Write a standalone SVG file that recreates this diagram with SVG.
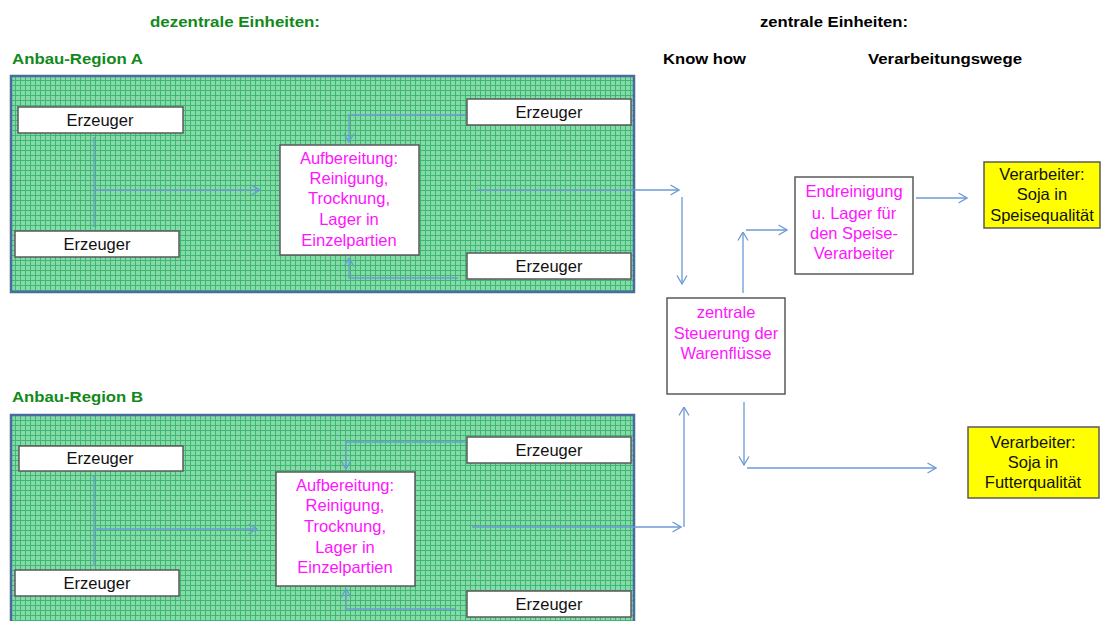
<svg xmlns="http://www.w3.org/2000/svg" width="1101" height="621" viewBox="0 0 1101 621">
<style>
.hdr{font-family:"Liberation Sans",Arial,sans-serif;font-weight:bold;font-size:15px}
.green{fill:#12891a}
.black{fill:#000}
.box{fill:#fff;stroke:#5a5a5a;stroke-width:1.5}
.ybox{fill:#ffff00;stroke:#5a5a5a;stroke-width:1.5}
.t{font-family:"Liberation Sans",Arial,sans-serif;font-size:16.5px;text-anchor:middle;fill:#111}
.m{font-family:"Liberation Sans",Arial,sans-serif;font-size:16.5px;text-anchor:middle;fill:#ff14ff}
.region{fill:url(#grid);stroke:#4a6aa0;stroke-width:2.5}
.c{fill:none;stroke:#6b9ad6;stroke-width:1.3}
</style>
<defs>
<pattern id="grid" x="0" y="0" width="5" height="5" patternUnits="userSpaceOnUse">
<rect width="5" height="5" fill="#84dba8"/>
<path d="M0,0.5 H5 M0.5,0 V5" stroke="#40b574" stroke-width="1"/>
</pattern>
<marker id="arr" viewBox="0 0 10 12" refX="9.5" refY="6" markerWidth="10" markerHeight="12" orient="auto" markerUnits="userSpaceOnUse">
<path d="M1,1 L9.5,6 L1,11" fill="none" stroke="#6b9ad6" stroke-width="1.3"/>
</marker>
</defs>
<rect width="1101" height="621" fill="#fff"/>

<g id="headers">
<text class="hdr green" x="150" y="27" textLength="170" lengthAdjust="spacingAndGlyphs">dezentrale Einheiten:</text>
<text class="hdr black" x="760" y="27" textLength="148" lengthAdjust="spacingAndGlyphs">zentrale Einheiten:</text>
<text class="hdr green" x="12" y="64" textLength="131" lengthAdjust="spacingAndGlyphs">Anbau-Region A</text>
<text class="hdr black" x="663" y="64" textLength="83" lengthAdjust="spacingAndGlyphs">Know how</text>
<text class="hdr black" x="868" y="64" textLength="154" lengthAdjust="spacingAndGlyphs">Verarbeitungswege</text>
<text class="hdr green" x="12" y="402" textLength="131" lengthAdjust="spacingAndGlyphs">Anbau-Region B</text>
</g>

<g id="regionA">
<rect class="region" x="11" y="76" width="623" height="216"/>
</g>
<g id="regionB">
<rect class="region" x="11" y="415" width="623" height="215"/>
</g>

<g id="connectors">
<path class="c" d="M94,137 V227"/>
<path class="c" d="M94,190 H260" marker-end="url(#arr)"/>
<path class="c" d="M467,115 H349 V142" marker-end="url(#arr)"/>
<path class="c" d="M458,278 H349 V258" marker-end="url(#arr)"/>
<path class="c" d="M477,190 H679" marker-end="url(#arr)"/>
<path class="c" d="M682,197 V284" marker-end="url(#arr)"/>
<path class="c" d="M743,293 V232" marker-end="url(#arr)"/>
<path class="c" d="M746,230 H787" marker-end="url(#arr)"/>
<path class="c" d="M916,198 H967" marker-end="url(#arr)"/>
<path class="c" d="M744,402 V465" marker-end="url(#arr)"/>
<path class="c" d="M747,468 H936" marker-end="url(#arr)"/>
<path class="c" d="M684,527 V407" marker-end="url(#arr)"/>
<path class="c" d="M94,475 V566"/>
<path class="c" d="M94,529 H257" marker-end="url(#arr)"/>
<path class="c" d="M467,442 H346 V469" marker-end="url(#arr)"/>
<path class="c" d="M455,609 H346 V589" marker-end="url(#arr)"/>
<path class="c" d="M472,527 H681" marker-end="url(#arr)"/>
</g>

<g id="erzA1"><rect class="box" x="18" y="107" width="165" height="26"/><text class="t" x="100" y="126">Erzeuger</text></g>
<g id="erzA2"><rect class="box" x="15" y="231" width="164" height="26"/><text class="t" x="97" y="250">Erzeuger</text></g>
<g id="erzA3"><rect class="box" x="467" y="99" width="164" height="26"/><text class="t" x="549" y="118">Erzeuger</text></g>
<g id="erzA4"><rect class="box" x="467" y="253" width="164" height="26"/><text class="t" x="549" y="272">Erzeuger</text></g>
<g id="aufbA">
<rect class="box" x="280" y="145" width="139" height="110"/>
<text class="m" x="349" y="164">Aufbereitung:</text>
<text class="m" x="349" y="184">Reinigung,</text>
<text class="m" x="349" y="204">Trocknung,</text>
<text class="m" x="349" y="225">Lager in</text>
<text class="m" x="349" y="246">Einzelpartien</text>
</g>

<g id="erzB1"><rect class="box" x="19" y="446" width="164" height="25"/><text class="t" x="100" y="464">Erzeuger</text></g>
<g id="erzB2"><rect class="box" x="15" y="570" width="164" height="26"/><text class="t" x="97" y="589">Erzeuger</text></g>
<g id="erzB3"><rect class="box" x="467" y="437" width="164" height="26"/><text class="t" x="549" y="456">Erzeuger</text></g>
<g id="erzB4"><rect class="box" x="467" y="591" width="164" height="26"/><text class="t" x="549" y="610">Erzeuger</text></g>
<g id="aufbB">
<rect class="box" x="276" y="472" width="139" height="114"/>
<text class="m" x="345" y="491">Aufbereitung:</text>
<text class="m" x="345" y="511">Reinigung,</text>
<text class="m" x="345" y="532">Trocknung,</text>
<text class="m" x="345" y="553">Lager in</text>
<text class="m" x="345" y="573">Einzelpartien</text>
</g>

<g id="steuerung">
<rect class="box" x="667" y="298" width="118" height="96"/>
<text class="m" x="726" y="318">zentrale</text>
<text class="m" x="726" y="339">Steuerung der</text>
<text class="m" x="726" y="359">Warenflüsse</text>
</g>

<g id="endreinigung">
<rect class="box" x="795" y="177" width="118" height="97"/>
<text class="m" x="854" y="197">Endreinigung</text>
<text class="m" x="854" y="219">u. Lager für</text>
<text class="m" x="854" y="239">den Speise-</text>
<text class="m" x="854" y="259">Verarbeiter</text>
</g>

<g id="speise">
<rect class="ybox" x="984" y="162" width="116" height="66"/>
<text class="t" x="1042" y="180">Verarbeiter:</text>
<text class="t" x="1042" y="200">Soja in</text>
<text class="t" x="1042" y="221">Speisequalität</text>
</g>

<g id="futter">
<rect class="ybox" x="968" y="427" width="131" height="71"/>
<text class="t" x="1033" y="448">Verarbeiter:</text>
<text class="t" x="1033" y="468">Soja in</text>
<text class="t" x="1033" y="488">Futterqualität</text>
</g>
</svg>
